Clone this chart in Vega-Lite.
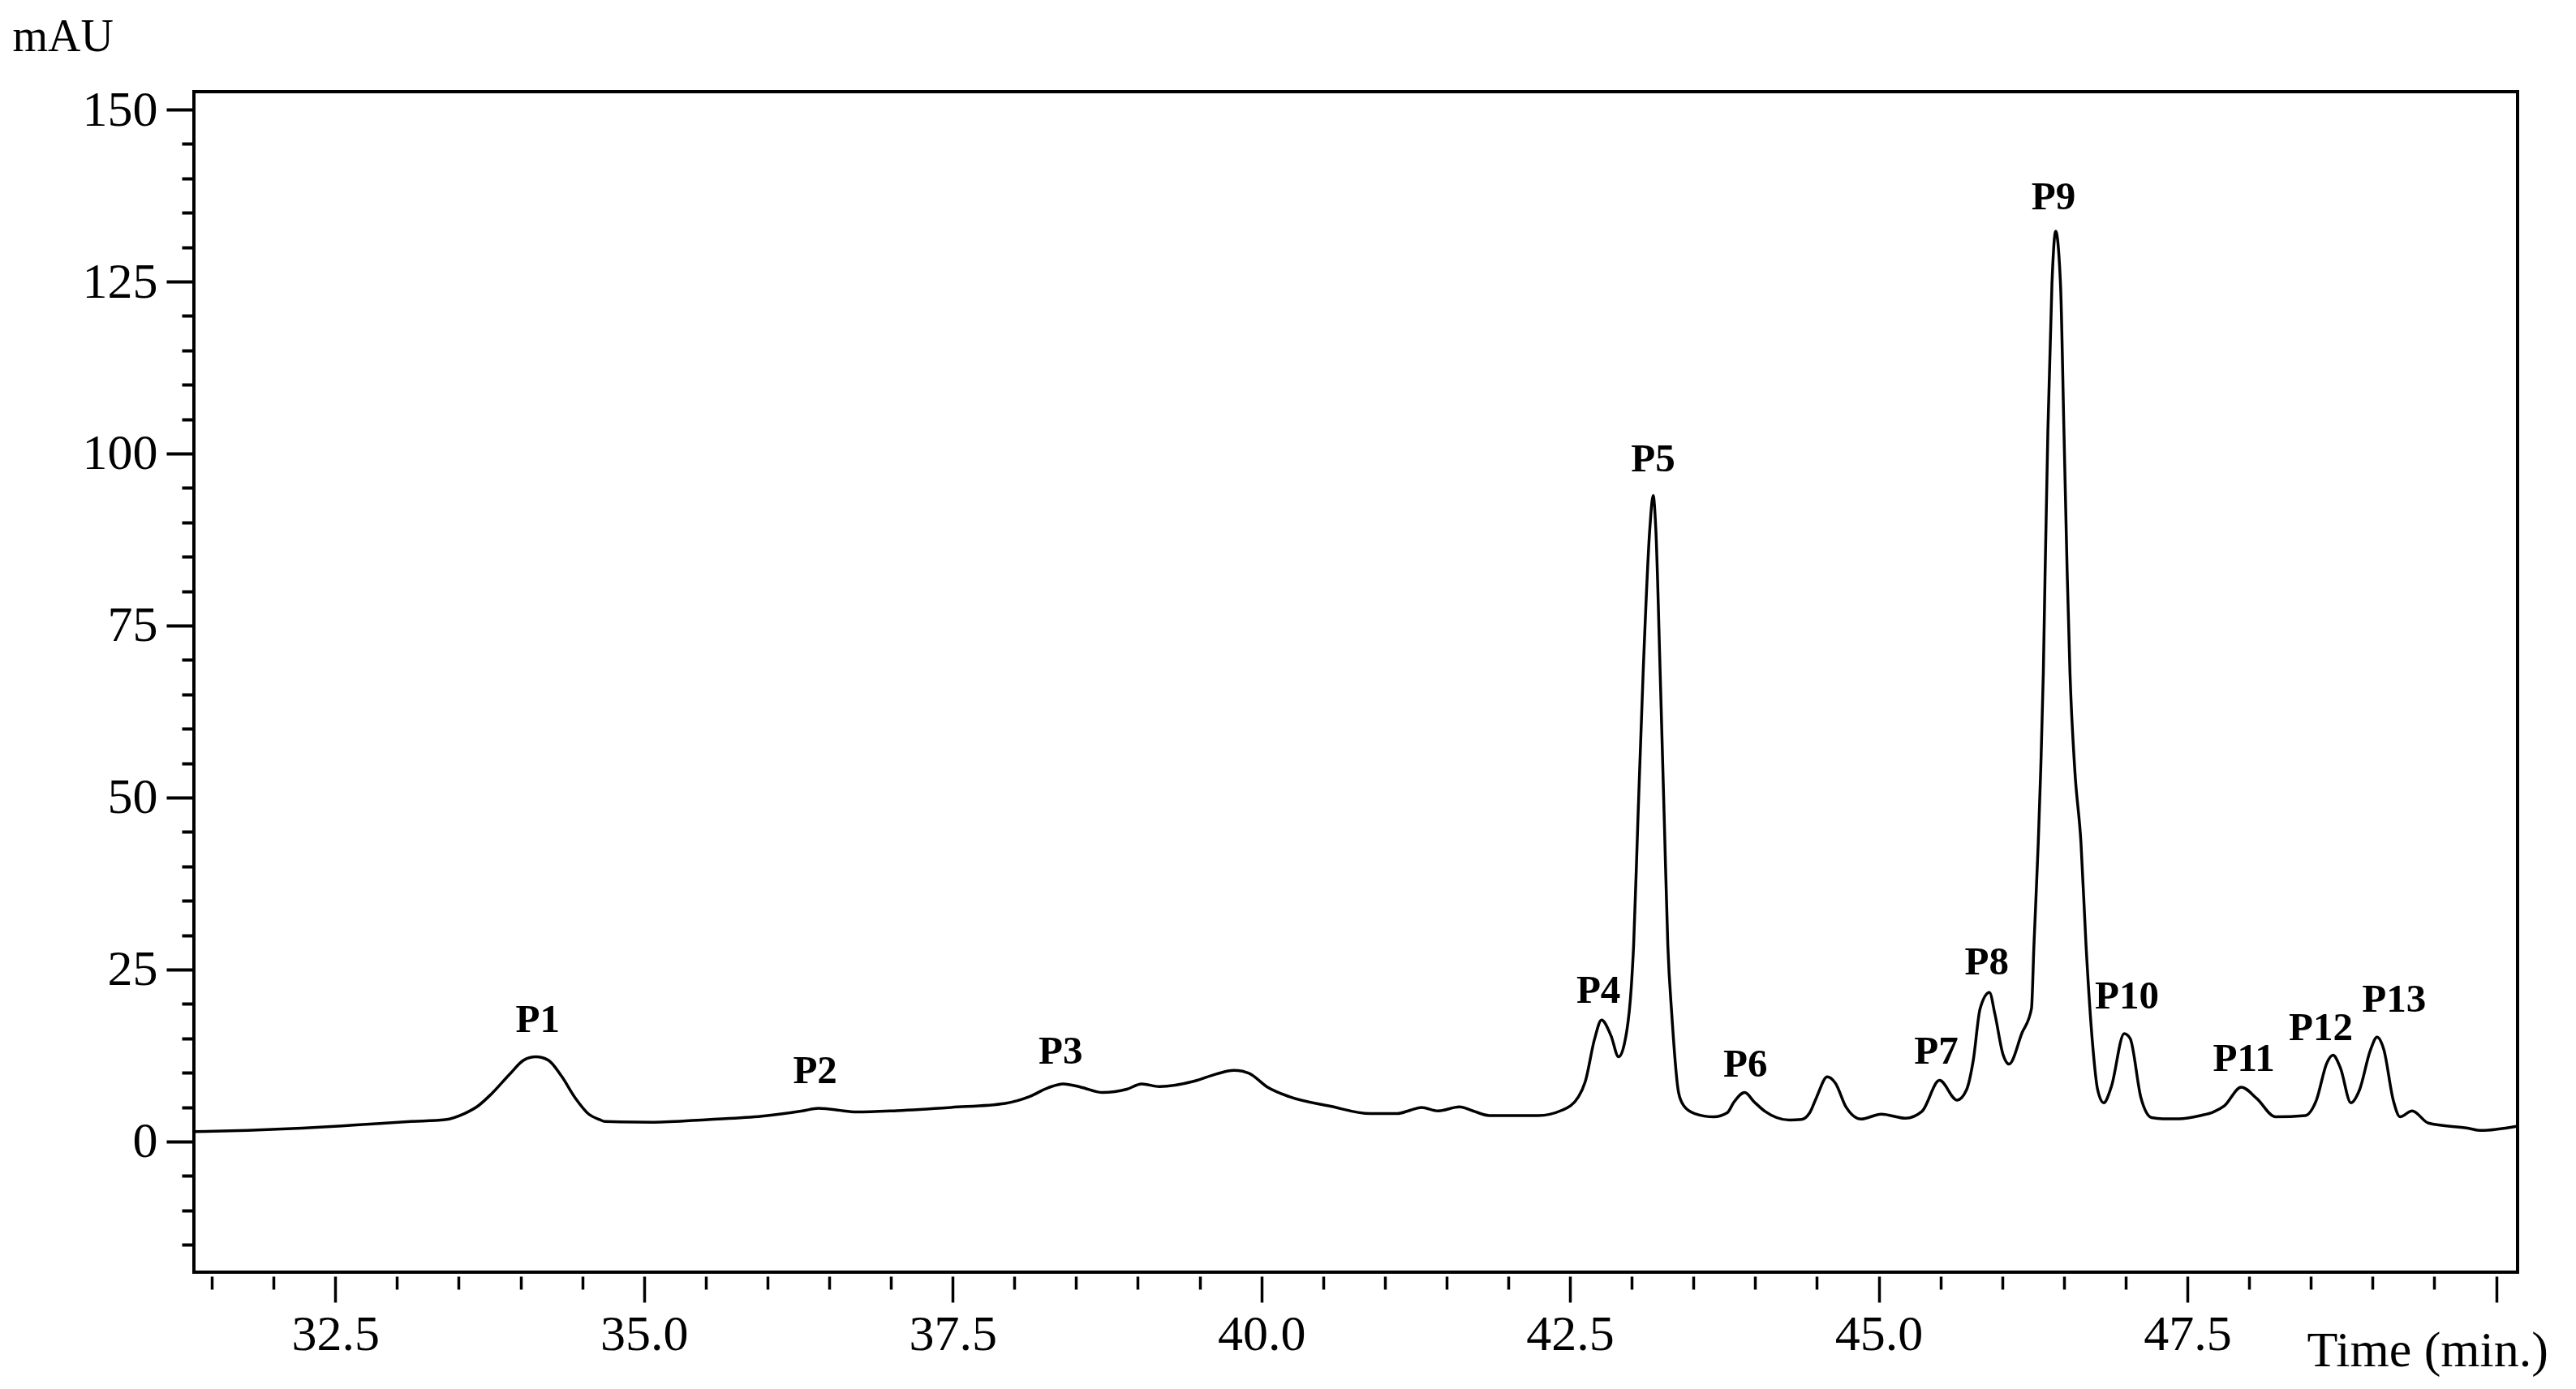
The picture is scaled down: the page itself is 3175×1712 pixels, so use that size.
{
  "$schema": "https://vega.github.io/schema/vega-lite/v6.json",
  "width": 2864,
  "height": 1455,
  "autosize": {"type": "none"},
  "padding": {"left": 239, "top": 113, "right": 72, "bottom": 144},
  "background": "white",
  "config": {
    "view": {"stroke": "black", "strokeWidth": 4},
    "axis": {"grid": false, "domain": false, "tickColor": "black", "labelColor": "black", "titleColor": "black", "labelFont": "Liberation Serif", "titleFont": "Liberation Serif", "labelFontWeight": "normal", "titleFontWeight": "normal"}
  },
  "datasets": {
    "trace": [
      {"t": 31.355, "v": 1.42}, {"t": 31.79, "v": 1.6}, {"t": 32.23, "v": 1.93}, {"t": 32.67, "v": 2.4},
      {"t": 33.11, "v": 2.9}, {"t": 33.39, "v": 3.18}, {"t": 33.545, "v": 4.05}, {"t": 33.655, "v": 5.15},
      {"t": 33.764, "v": 6.9}, {"t": 33.917, "v": 9.87}, {"t": 34.027, "v": 11.83}, {"t": 34.125, "v": 12.3},
      {"t": 34.224, "v": 11.83}, {"t": 34.333, "v": 9.47}, {"t": 34.443, "v": 6.33}, {"t": 34.553, "v": 3.97},
      {"t": 34.64, "v": 3.18}, {"t": 34.684, "v": 2.9}, {"t": 35.08, "v": 2.8}, {"t": 35.516, "v": 3.18},
      {"t": 35.955, "v": 3.66}, {"t": 36.283, "v": 4.44}, {"t": 36.414, "v": 4.83}, {"t": 36.567, "v": 4.56},
      {"t": 36.72, "v": 4.28}, {"t": 37.05, "v": 4.48}, {"t": 37.487, "v": 4.95}, {"t": 37.925, "v": 5.54},
      {"t": 38.122, "v": 6.52}, {"t": 38.275, "v": 7.82}, {"t": 38.396, "v": 8.37}, {"t": 38.538, "v": 7.9},
      {"t": 38.714, "v": 7.11}, {"t": 38.91, "v": 7.59}, {"t": 39.031, "v": 8.37}, {"t": 39.174, "v": 7.98},
      {"t": 39.458, "v": 8.77}, {"t": 39.633, "v": 9.79}, {"t": 39.776, "v": 10.34}, {"t": 39.896, "v": 9.95},
      {"t": 40.05, "v": 7.9}, {"t": 40.225, "v": 6.52}, {"t": 40.553, "v": 5.15}, {"t": 40.882, "v": 4.05},
      {"t": 41.1, "v": 4.05}, {"t": 41.21, "v": 4.56}, {"t": 41.297, "v": 4.95}, {"t": 41.43, "v": 4.44},
      {"t": 41.605, "v": 5.03}, {"t": 41.714, "v": 4.44}, {"t": 41.846, "v": 3.77}, {"t": 42.24, "v": 3.77},
      {"t": 42.437, "v": 4.56}, {"t": 42.569, "v": 6.52}, {"t": 42.623, "v": 8.69}, {"t": 42.7, "v": 14.98},
      {"t": 42.755, "v": 17.65}, {"t": 42.832, "v": 15.37}, {"t": 42.893, "v": 12.3}, {"t": 42.94, "v": 14.19},
      {"t": 42.996, "v": 22.44}, {"t": 43.015, "v": 28.5}, {"t": 43.05, "v": 46.9}, {"t": 43.092, "v": 68.1},
      {"t": 43.147, "v": 89.3}, {"t": 43.173, "v": 93.9}, {"t": 43.194, "v": 89.3}, {"t": 43.23, "v": 68.1},
      {"t": 43.263, "v": 46.9}, {"t": 43.292, "v": 28.5}, {"t": 43.324, "v": 18.5}, {"t": 43.379, "v": 7.11},
      {"t": 43.423, "v": 5.15}, {"t": 43.51, "v": 4.05}, {"t": 43.664, "v": 3.58}, {"t": 43.773, "v": 4.17},
      {"t": 43.828, "v": 5.74}, {"t": 43.915, "v": 7.11}, {"t": 43.992, "v": 5.74}, {"t": 44.08, "v": 4.36},
      {"t": 44.277, "v": 3.11}, {"t": 44.375, "v": 3.2}, {"t": 44.441, "v": 4.17}, {"t": 44.496, "v": 6.4},
      {"t": 44.583, "v": 9.4}, {"t": 44.649, "v": 8.49}, {"t": 44.737, "v": 4.95}, {"t": 44.857, "v": 3.26},
      {"t": 45.021, "v": 3.97}, {"t": 45.218, "v": 3.38}, {"t": 45.35, "v": 4.36}, {"t": 45.492, "v": 8.88},
      {"t": 45.635, "v": 6.01}, {"t": 45.711, "v": 7.51}, {"t": 45.766, "v": 11.83}, {"t": 45.821, "v": 19.3},
      {"t": 45.897, "v": 21.66}, {"t": 45.941, "v": 18.51}, {"t": 46.007, "v": 12.62}, {"t": 46.055, "v": 11.24},
      {"t": 46.16, "v": 15.76}, {"t": 46.237, "v": 19.3}, {"t": 46.257, "v": 28.5}, {"t": 46.292, "v": 43.4},
      {"t": 46.312, "v": 54}, {"t": 46.333, "v": 68.1}, {"t": 46.347, "v": 82.2}, {"t": 46.37, "v": 103.4},
      {"t": 46.403, "v": 124.7}, {"t": 46.433, "v": 132.3}, {"t": 46.472, "v": 124.7}, {"t": 46.5, "v": 103.4},
      {"t": 46.527, "v": 82.2}, {"t": 46.549, "v": 68.1}, {"t": 46.588, "v": 54}, {"t": 46.638, "v": 43.4},
      {"t": 46.679, "v": 28.5}, {"t": 46.73, "v": 14.59}, {"t": 46.773, "v": 7.51}, {"t": 46.822, "v": 5.62},
      {"t": 46.883, "v": 7.9}, {"t": 46.988, "v": 15.68}, {"t": 47.036, "v": 14.98}, {"t": 47.124, "v": 6.33},
      {"t": 47.211, "v": 3.46}, {"t": 47.3, "v": 3.3}, {"t": 47.43, "v": 3.3}, {"t": 47.605, "v": 3.77},
      {"t": 47.71, "v": 4.28}, {"t": 47.798, "v": 5.15}, {"t": 47.936, "v": 7.9}, {"t": 48.061, "v": 6.25},
      {"t": 48.214, "v": 3.58}, {"t": 48.455, "v": 3.77}, {"t": 48.543, "v": 5.93}, {"t": 48.63, "v": 11.44},
      {"t": 48.679, "v": 12.54}, {"t": 48.74, "v": 10.65}, {"t": 48.824, "v": 5.62}, {"t": 48.894, "v": 7.51},
      {"t": 48.981, "v": 13.21}, {"t": 49.036, "v": 15.17}, {"t": 49.09, "v": 13.4}, {"t": 49.168, "v": 5.93},
      {"t": 49.222, "v": 3.58}, {"t": 49.32, "v": 4.44}, {"t": 49.452, "v": 2.67}, {"t": 49.77, "v": 1.93},
      {"t": 49.879, "v": 1.6}, {"t": 50.164, "v": 2.2}
    ],
    "labels": [
      {"label": "P1", "t": 34.14, "v": 15.9},
      {"label": "P2", "t": 36.386, "v": 8.49},
      {"label": "P3", "t": 38.374, "v": 11.32},
      {"label": "P4", "t": 42.73, "v": 20.17},
      {"label": "P5", "t": 43.173, "v": 97.4},
      {"label": "P6", "t": 43.92, "v": 9.47},
      {"label": "P7", "t": 45.466, "v": 11.32},
      {"label": "P8", "t": 45.875, "v": 24.33},
      {"label": "P9", "t": 46.416, "v": 135.5},
      {"label": "P10", "t": 47.01, "v": 19.3},
      {"label": "P11", "t": 47.957, "v": 10.26},
      {"label": "P12", "t": 48.58, "v": 14.78},
      {"label": "P13", "t": 49.174, "v": 18.83}
    ]
  },
  "layer": [
    {
      "data": {"name": "trace"},
      "mark": {"type": "line", "color": "black", "strokeWidth": 3.5, "interpolate": "monotone"},
      "encoding": {
        "x": {
          "field": "t", "type": "quantitative",
          "scale": {"domain": [31.355, 50.174], "nice": false, "zero": false},
          "axis": {
            "orient": "bottom", "offset": 5,
            "values": [32.5, 35, 37.5, 40, 42.5, 45, 47.5, 50],
            "tickSize": 32, "tickWidth": 3.5,
            "labelFontSize": 62, "labelPadding": 9,
            "labelExpr": "datum.value == 50 ? '' : format(datum.value, '.1f')",
            "title": "Time (min.)", "titleFontSize": 62,
            "titleX": 2604, "titleY": 110, "titleAlign": "left", "titleBaseline": "alphabetic"
          }
        },
        "y": {
          "field": "v", "type": "quantitative",
          "scale": {"domain": [-19, 152.6], "nice": false, "zero": false},
          "axis": {
            "orient": "left",
            "values": [0, 25, 50, 75, 100, 125, 150],
            "tickSize": 34, "tickWidth": 4,
            "labelFontSize": 62, "labelPadding": 11, "format": "d",
            "title": "mAU", "titleFontSize": 56, "titleAngle": 0,
            "titleX": -224, "titleY": -51, "titleAlign": "left", "titleBaseline": "alphabetic"
          }
        }
      }
    },
    {
      "data": {"name": "labels"},
      "mark": {"type": "text", "font": "Liberation Serif", "fontWeight": "bold", "fontSize": 49, "baseline": "alphabetic", "align": "center", "color": "black"},
      "encoding": {
        "x": {
          "field": "t", "type": "quantitative",
          "scale": {"domain": [31.355, 50.174], "nice": false, "zero": false},
          "axis": {
            "orient": "bottom", "offset": 5,
            "values": [31.5, 32, 33, 33.5, 34, 34.5, 35.5, 36, 36.5, 37, 38, 38.5, 39, 39.5, 40.5, 41, 41.5, 42, 43, 43.5, 44, 44.5, 45.5, 46, 46.5, 47, 48, 48.5, 49, 49.5],
            "tickSize": 16, "tickWidth": 3.5, "labels": false, "title": null
          }
        },
        "y": {
          "field": "v", "type": "quantitative",
          "scale": {"domain": [-19, 152.6], "nice": false, "zero": false},
          "axis": {
            "orient": "left",
            "values": [-15, -10, -5, 5, 10, 15, 20, 30, 35, 40, 45, 55, 60, 65, 70, 80, 85, 90, 95, 105, 110, 115, 120, 130, 135, 140, 145],
            "tickSize": 15, "tickWidth": 4, "labels": false, "title": null
          }
        },
        "text": {"field": "label", "type": "nominal"}
      }
    }
  ],
  "resolve": {"axis": {"x": "independent", "y": "independent"}}
}
